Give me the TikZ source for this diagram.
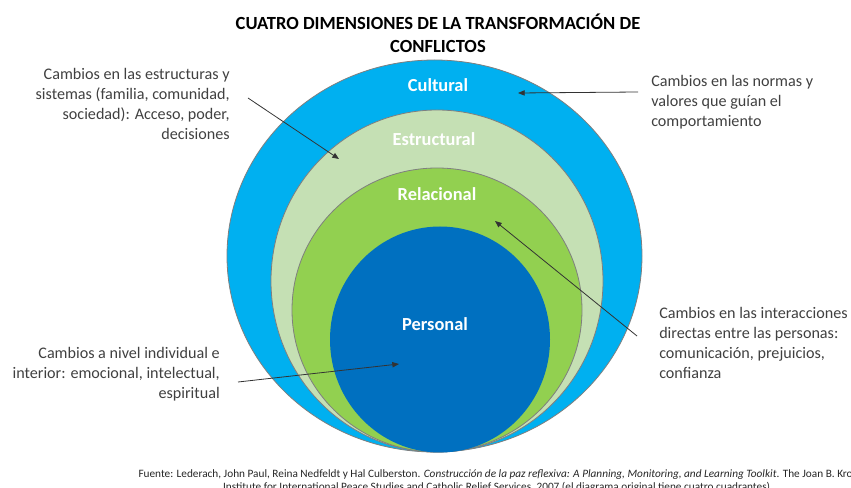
\documentclass[tikz,border=0pt]{standalone}
\usepackage{fontspec}
\setmainfont{Carlito}
\usetikzlibrary{arrows.meta, positioning}
\definecolor{cfcyan}{HTML}{00B0F0}
\definecolor{cfpale}{HTML}{C5E0B4}
\definecolor{cfgreen}{HTML}{92D050}
\definecolor{cfblue}{HTML}{0070C0}
\definecolor{cftext}{HTML}{404040}
\definecolor{cfedge}{HTML}{7F7F7F}

\begin{document}
\begin{tikzpicture}[x=0.75pt, y=-0.75pt,
  ring/.style={draw=cfedge, line width=0.6pt},
  ringlabel/.style={text=white, font=\fontsize{13.8}{16}\selectfont\bfseries},
  note/.style={text=cftext, font=\fontsize{12.1}{15}\selectfont, inner sep=0pt},
  pointer/.style={-{Triangle[length=5pt, width=4pt]}, line width=0.6pt, draw=black!80}]
\useasboundingbox (0,0) rectangle (851,488);

% Title
\node[font=\fontsize{13.9}{17.25}\selectfont\bfseries, align=center] (title) at (438,33.5)
  {CUATRO DIMENSIONES DE LA TRANSFORMACIÓN DE\\CONFLICTOS};

% Nested rings, all touching at the bottom
\draw[ring, fill=cfcyan]  (434.5,256) ellipse [x radius=207.5, y radius=196];
\draw[ring, fill=cfpale]  (437,281)   ellipse [x radius=166, y radius=171];
\draw[ring, fill=cfgreen] (437,310)   ellipse [x radius=145, y radius=142];
\fill[cfblue]             (440,339.5) ellipse [x radius=110, y radius=113];

% Ring labels
\node[ringlabel] (cultural)    at (438,85)  {Cultural};
\node[ringlabel] (estructural) at (434,139) {Estructural};
\node[ringlabel] (relacional)  at (437,194) {Relacional};
\node[ringlabel] (personal)    at (435,324) {Personal};

% Notes
\node[note, align=right, anchor=east] (noteEstr) at (230,104)
  {Cambios en las estructuras y\\sistemas (familia, comunidad,\\sociedad): Acceso, poder,\\decisiones};
\node[note, align=left, anchor=west] (noteCult) at (651,102)
  {Cambios en las normas y\\valores que guían el\\comportamiento};
\node[note, align=left, anchor=west] (noteRel) at (659,343)
  {Cambios en las interacciones\\directas entre las personas:\\comunicación, prejuicios,\\confianza};
\node[note, align=right, anchor=east] (notePers) at (220,374)
  {Cambios a nivel individual e\\interior: emocional, intelectual,\\espiritual};

% Pointer ends
\coordinate (estrFrom) at (248,98);
\coordinate (estrTip)  at (339,159);
\coordinate (cultFrom) at (638,92);
\coordinate (cultTip)  at (518,93);
\coordinate (relFrom)  at (637,336);
\coordinate (relTip)   at (495,221);
\coordinate (persFrom) at (238,382);
\coordinate (persTip)  at (399,364);

% Pointers
\draw[pointer] (estrFrom) -- (estrTip);
\draw[pointer] (cultFrom) -- (cultTip);
\draw[pointer] (relFrom)  -- (relTip);
\draw[pointer] (persFrom) -- (persTip);

% Source
\node[font=\fontsize{8.45}{9.75}\selectfont, align=center, text=black!85, anchor=north] (source) at (498,465)
  {Fuente: Lederach, John Paul, Reina Nedfeldt y Hal Culberston. \textit{Construcción de la paz reflexiva: A Planning, Monitoring, and Learning Toolkit}. The Joan B. Kroc\\
   Institute for International Peace Studies and Catholic Relief Services, 2007 (el diagrama original tiene cuatro cuadrantes).};
\end{tikzpicture}
\end{document}
